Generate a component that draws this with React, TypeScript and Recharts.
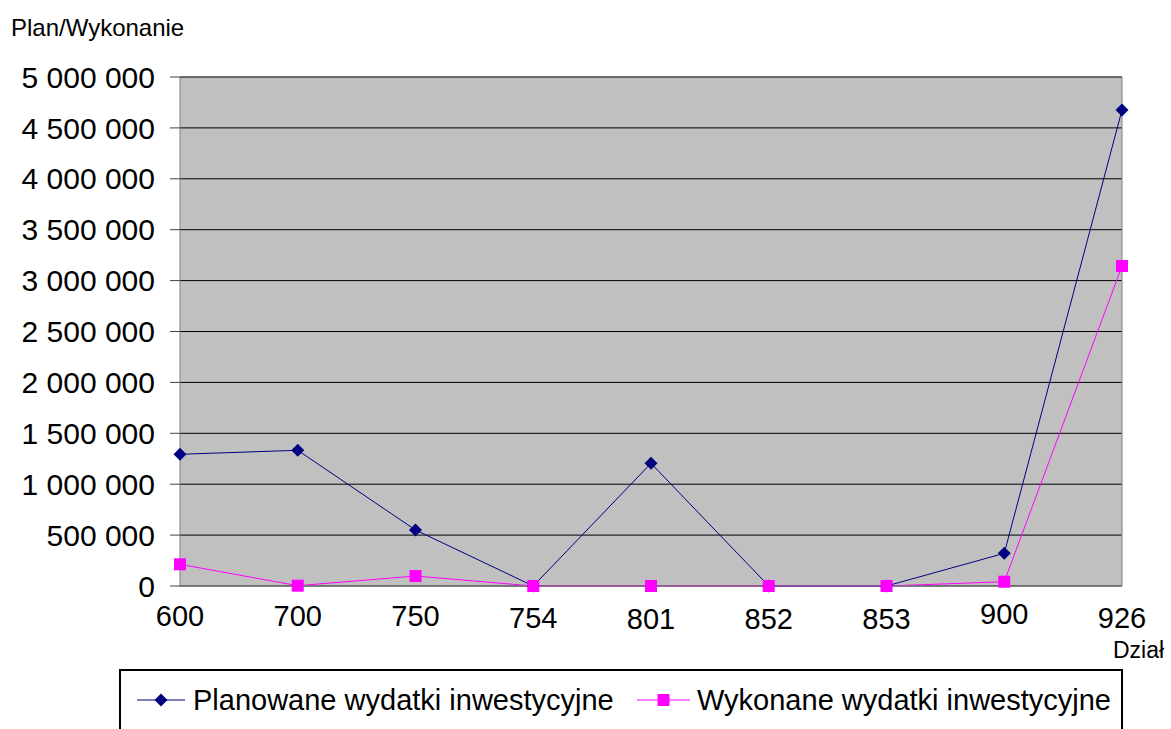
import React from 'react';
import {
  LineChart,
  Line,
  XAxis,
  YAxis,
  CartesianGrid,
  ReferenceLine,
} from 'recharts';

const dzialy = ['600', '700', '750', '754', '801', '852', '853', '900', '926'];
const planowane = [1294000, 1333000, 550000, 0, 1205000, 0, 0, 321000, 4676000];
const wykonane = [213000, 3000, 98000, 0, 0, 0, 0, 42000, 3143000];
const yTicks = [0, 500000, 1000000, 1500000, 2000000, 2500000, 3000000, 3500000, 4000000, 4500000, 5000000];

const seriesNames = {
  plan: 'Planowane wydatki inwestycyjne',
  wyk: 'Wykonane wydatki inwestycyjne',
};

const chartData = dzialy.map((d, i) => ({
  dzial: d,
  plan: planowane[i],
  wyk: wykonane[i],
}));

const FONT = '"Liberation Sans", Arial, sans-serif';
const NAVY = '#000080';
const MAGENTA = '#FF00FF';

// the old export draws the category labels slightly uneven vertically
const labelShift = [0, 0, 0, 2, 3, 3, 3, -2, 2];

const fmt = (v: number) => String(v).replace(/\B(?=(\d{3})+(?!\d))/g, ' ');

const Diamond = (props: any) => {
  const { cx, cy, index } = props;
  if (cx == null || cy == null) return <g key={index} />;
  const r = 6.5;
  return (
    <path
      key={index}
      d={`M${cx},${cy - r}L${cx + r},${cy}L${cx},${cy + r}L${cx - r},${cy}Z`}
      fill={NAVY}
    />
  );
};

const Square = (props: any) => {
  const { cx, cy, index } = props;
  if (cx == null || cy == null) return <g key={index} />;
  const s = 12;
  return <rect key={index} x={cx - s / 2} y={cy - s / 2} width={s} height={s} fill={MAGENTA} />;
};

const XTick = (props: any) => {
  const { x, y, payload, index } = props;
  return (
    <text
      x={x}
      y={y + (labelShift[index] || 0)}
      dy="0.71em"
      textAnchor="middle"
      fontSize={29}
      fontFamily={FONT}
      fill="#000"
    >
      {payload.value}
    </text>
  );
};

export default function App() {
  return (
    <div
      style={{
        position: 'absolute',
        left: 0,
        top: 0,
        width: 1171,
        height: 729,
        overflow: 'hidden',
        background: '#fff',
        fontFamily: FONT,
      }}
    >
      <LineChart
        width={1171}
        height={729}
        data={chartData}
        margin={{ top: 77, right: 49, bottom: 103, left: 0 }}
      >
        <CartesianGrid
          vertical={false}
          fill="#C0C0C0"
          fillOpacity={1}
          stroke="#000"
          strokeOpacity={1}
        />
        <XAxis
          dataKey="dzial"
          height={40}
          axisLine={{ stroke: '#808080' }}
          tickLine={false}
          tickMargin={13}
          tick={<XTick />}
          interval={0}
        />
        <YAxis
          width={180}
          domain={[0, 5000000]}
          ticks={yTicks}
          interval={0}
          tickFormatter={fmt}
          axisLine={{ stroke: '#808080' }}
          tickLine={{ stroke: '#404040' }}
          tickSize={10}
          tickMargin={15}
          tick={{ fill: '#000', fontSize: 30, fontFamily: FONT }}
        />
        <ReferenceLine x="926" stroke="#808080" />
        <ReferenceLine y={5000000} stroke="#606060" />
        <Line
          type="linear"
          dataKey="plan"
          name={seriesNames.plan}
          stroke={NAVY}
          strokeWidth={1}
          dot={Diamond}
          activeDot={false}
          isAnimationActive={false}
        />
        <Line
          type="linear"
          dataKey="wyk"
          name={seriesNames.wyk}
          stroke={MAGENTA}
          strokeWidth={1}
          dot={Square}
          activeDot={false}
          isAnimationActive={false}
        />
      </LineChart>

      <div style={{ position: 'absolute', left: 11, top: 14, fontSize: 24, color: '#000' }}>
        Plan/Wykonanie
      </div>
      <div style={{ position: 'absolute', left: 1113, top: 637, fontSize: 23, color: '#000', whiteSpace: 'nowrap' }}>
        Dział
      </div>

      <div
        style={{
          position: 'absolute',
          left: 119,
          top: 669,
          width: 1004,
          height: 80,
          border: '2px solid #000',
          boxSizing: 'border-box',
        }}
      >
        <svg width={1004} height={80} style={{ position: 'absolute', left: -2, top: -2 }}>
          <line x1={18} y1={31} x2={66} y2={31} stroke={NAVY} strokeWidth={1} />
          <path d="M42,24.5L48.5,31L42,37.5L35.5,31Z" fill={NAVY} />
          <line x1={518} y1={31} x2={571} y2={31} stroke={MAGENTA} strokeWidth={1} />
          <rect x={538.5} y={25} width={12} height={12} fill={MAGENTA} />
          <text x={74} y={41} fontSize={29} fontFamily={FONT} fill="#000">
            {seriesNames.plan}
          </text>
          <text x={578} y={41} fontSize={29} fontFamily={FONT} fill="#000">
            {seriesNames.wyk}
          </text>
        </svg>
      </div>
    </div>
  );
}
